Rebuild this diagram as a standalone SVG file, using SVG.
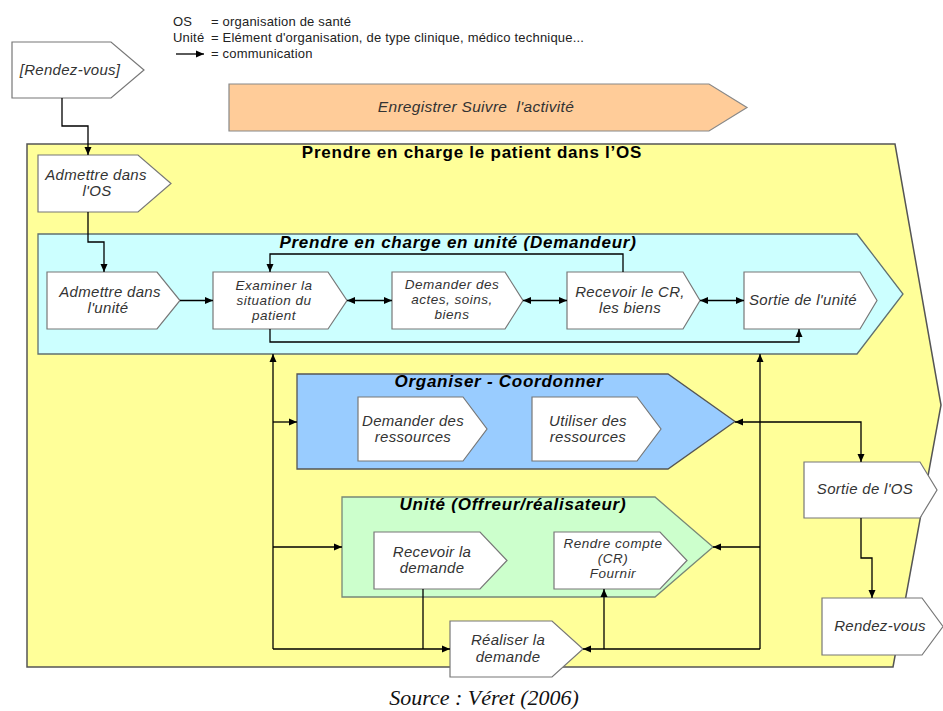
<svg xmlns="http://www.w3.org/2000/svg" width="943" height="711" viewBox="0 0 943 711">
<defs>
<marker id="ah" viewBox="0 0 8 8" refX="8" refY="4" markerWidth="8" markerHeight="8" markerUnits="userSpaceOnUse" orient="auto-start-reverse">
<path d="M0,0.5 L8,4 L0,7.5 z" fill="#000"/>
</marker>
<style>
.bg{fill:#fff}
.node{fill:#fff;stroke:#777;stroke-width:1.2}
.t{font-family:"Liberation Sans",Arial,sans-serif;font-style:italic;font-size:15px;letter-spacing:0.3px;fill:#333;text-anchor:middle}
.t3{font-size:13.5px;letter-spacing:0.5px}
.ttl{font-family:"Liberation Sans",Arial,sans-serif;font-weight:bold;font-size:17px;letter-spacing:0.75px;fill:#000;text-anchor:middle}
.it{font-style:italic}
.leg{font-family:"Liberation Sans",Arial,sans-serif;font-size:13px;letter-spacing:0.2px;fill:#222}
.cn{fill:none;stroke:#000;stroke-width:1.3}
.ar{marker-end:url(#ah)}
.ar2{marker-start:url(#ah);marker-end:url(#ah)}
</style>
</defs>
<rect width="943" height="711" class="bg"/>

<g id="legend">
<text class="leg" x="173" y="26">OS</text>
<text class="leg" x="211" y="26">= organisation de santé</text>
<text class="leg" x="173" y="42">Unité</text>
<text class="leg" x="211" y="42">= Elément d'organisation, de type clinique, médico technique...</text>
<path class="cn ar" d="M176,54 H204"/>
<text class="leg" x="211" y="58">= communication</text>
</g>

<g id="rdv-start">
<polygon class="node" points="12,42 111,42 144,70 111,98 12,98"/>
<text class="t" x="70" y="75">[Rendez-vous]</text>
</g>

<g id="enregistrer">
<polygon points="229,84 709,84 747,107.5 709,131 229,131" fill="#FFCC99" stroke="#888" stroke-width="1.2"/>
<text class="t" x="476" y="112" style="font-size:15.5px;white-space:pre">Enregistrer Suivre  l'activité</text>
</g>

<g id="os">
<polygon points="27,144 895,144 941,405 893,667 27,667" fill="#FFFF99" stroke="#555" stroke-width="1.5"/>
<text class="ttl" x="472" y="158">Prendre en charge le patient dans l’OS</text>
</g>

<g id="admettre-os">
<polygon class="node" points="38,155 138,155 171,183.5 138,212 38,212"/>
<text class="t" x="96" y="180">Admettre dans</text>
<text class="t" x="97" y="196">l'OS</text>
</g>

<g id="unite-demandeur">
<polygon points="38,234 857,234 903,294 857,354 38,354" fill="#CCFFFF" stroke="#607070" stroke-width="1.3"/>
<text class="ttl it" x="458" y="248">Prendre en charge en unité (Demandeur)</text>
</g>

<g id="admettre-unite">
<polygon class="node" points="47,272 157,272 180,300.5 157,329 47,329"/>
<text class="t" x="110" y="297">Admettre dans</text>
<text class="t" x="108" y="313">l'unité</text>
</g>

<g id="examiner">
<polygon class="node" points="213,272 328,272 347,300.5 328,329 213,329"/>
<text class="t t3" x="274" y="290">Examiner la</text>
<text class="t t3" x="274" y="305">situation du</text>
<text class="t t3" x="274" y="320">patient</text>
</g>

<g id="demander-actes">
<polygon class="node" points="392,272 505,272 523,300.5 505,329 392,329"/>
<text class="t t3" x="452" y="289">Demander des</text>
<text class="t t3" x="452" y="304">actes, soins,</text>
<text class="t t3" x="452" y="319">biens</text>
</g>

<g id="recevoir-cr">
<polygon class="node" points="567,272 683,272 700,300.5 683,329 567,329"/>
<text class="t" x="630" y="297">Recevoir le CR,</text>
<text class="t" x="630" y="313">les biens</text>
</g>

<g id="sortie-unite">
<polygon class="node" points="744,272 860,272 877,300.5 860,329 744,329"/>
<text class="t" x="803" y="305">Sortie de l'unité</text>
</g>

<g id="organiser">
<polygon points="297,374 668,374 735,421.5 668,469 297,469" fill="#99CCFF" stroke="#555" stroke-width="1.3"/>
<text class="ttl it" x="499" y="387">Organiser - Coordonner</text>
</g>

<g id="demander-ressources">
<polygon class="node" points="358,397 463,397 487,429 463,461 358,461"/>
<text class="t" x="413" y="426">Demander des</text>
<text class="t" x="413" y="442">ressources</text>
</g>

<g id="utiliser-ressources">
<polygon class="node" points="532,397 637,397 661,429 637,461 532,461"/>
<text class="t" x="588" y="426">Utiliser des</text>
<text class="t" x="588" y="442">ressources</text>
</g>

<g id="unite-offreur">
<polygon points="342,497 655,497 713,547 655,597 342,597" fill="#CCFFCC" stroke="#778877" stroke-width="1.3"/>
<text class="ttl it" x="513" y="510">Unité (Offreur/réalisateur)</text>
</g>

<g id="recevoir-demande">
<polygon class="node" points="374,532 480,532 507,560.5 480,589 374,589"/>
<text class="t" x="432" y="557">Recevoir la</text>
<text class="t" x="432" y="573">demande</text>
</g>

<g id="rendre-compte">
<polygon class="node" points="554,532 660,532 687,560.5 660,589 554,589"/>
<text class="t t3" x="613" y="548">Rendre compte</text>
<text class="t t3" x="613" y="563">(CR)</text>
<text class="t t3" x="613" y="578">Fournir</text>
</g>

<g id="realiser">
<polygon class="node" points="450,621 552,621 583,649 552,677 450,677"/>
<text class="t" x="508" y="645">Réaliser la</text>
<text class="t" x="508" y="662">demande</text>
</g>

<g id="sortie-os">
<polygon class="node" points="804,462 920,462 937,490 920,518 804,518"/>
<text class="t" x="865" y="494">Sortie de l'OS</text>
</g>

<g id="rdv-end">
<polygon class="node" points="822,598 922,598 943,626.5 922,655 822,655"/>
<text class="t" x="880" y="631">Rendez-vous</text>
</g>

<g id="connectors">
<path class="cn ar" d="M62,98 V126 H88 V155"/>
<path class="cn ar" d="M88,212 V242 H104 V272"/>
<path class="cn ar" d="M180,300.5 H213"/>
<path class="cn ar2" d="M347,300.5 H392"/>
<path class="cn ar2" d="M523,300.5 H567"/>
<path class="cn ar2" d="M700,300.5 H744"/>
<path class="cn ar" d="M623,272 V254 H270 V272"/>
<path class="cn ar" d="M270,329 V342 H799 V329"/>
<path class="cn ar" d="M273,649 V354"/>
<path class="cn ar" d="M273,422 H297"/>
<path class="cn ar" d="M273,547 H342"/>
<path class="cn ar" d="M273,649 H450"/>
<path class="cn" d="M423,589 V649"/>
<path class="cn ar" d="M760,649 V354"/>
<path class="cn ar" d="M760,649 H583"/>
<path class="cn ar" d="M760,547 H713"/>
<path class="cn ar" d="M604,649 V589"/>
<path class="cn ar2" d="M735,422 H861 V462"/>
<path class="cn ar" d="M861,518 V558 H872 V598"/>
</g>

<text x="484" y="705" font-family="'Liberation Serif','Times New Roman',serif" font-style="italic" font-size="22" fill="#111" text-anchor="middle">Source : Véret (2006)</text>
</svg>
